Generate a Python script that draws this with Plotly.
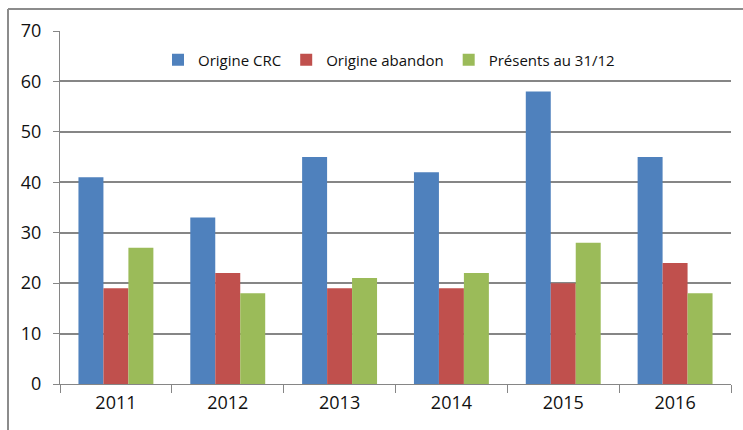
import plotly.graph_objects as go

years = ["2011", "2012", "2013", "2014", "2015", "2016"]
origine_crc = [41, 33, 45, 42, 58, 45]
origine_abandon = [19, 22, 19, 19, 20, 24]
presents = [27, 18, 21, 22, 28, 18]

series_names = ["Origine CRC", "Origine abandon", "Présents au 31/12"]
colors = ["#4F81BD", "#C0504D", "#9BBB59"]
y_ticks = [0, 10, 20, 30, 40, 50, 60, 70]

fig = go.Figure()
for name, vals, col in zip(series_names, [origine_crc, origine_abandon, presents], colors):
    fig.add_trace(go.Bar(x=years, y=vals, name=name, marker=dict(color=col, line=dict(width=0))))

W, H = 743, 430
ml, mr, mt, mb = 60, 12, 31, 46
pw, ph = W - ml - mr, H - mt - mb

def px_to_paper_x(px):
    return (px - ml) / pw

def px_to_paper_y(py):
    return 1 - (py - mt) / ph

fig.update_layout(
    width=W, height=H,
    margin=dict(l=ml, r=mr, t=mt, b=mb, autoexpand=False),
    paper_bgcolor="white", plot_bgcolor="white",
    barmode="group", bargap=0.33, bargroupgap=0,
    font=dict(family="Open Sans, Noto Sans, sans-serif", color="#111111"),
    showlegend=True,
    legend=dict(orientation="h", x=px_to_paper_x(389), y=px_to_paper_y(60),
                xanchor="center", yanchor="middle",
                font=dict(size=15, color="#111111"),
                itemwidth=30, traceorder="normal", bgcolor="rgba(0,0,0,0)"),
    xaxis=dict(type="category", showline=True, linecolor="#868686", linewidth=1,
               ticks="outside", ticklen=8, tickcolor="#868686", tickson="boundaries",
               tickfont=dict(size=18), showgrid=False, ticklabelstandoff=2,
               automargin=False),
    yaxis=dict(range=[0, 70], tickvals=y_ticks, showline=True, linecolor="#868686",
               linewidth=1, ticks="outside", ticklen=6, tickcolor="#868686",
               showgrid=True, gridcolor="#868686", gridwidth=1.5,
               tickfont=dict(size=18), zeroline=False, ticklabelstandoff=8,
               automargin=False),
    shapes=[
        dict(type="line", xref="paper", yref="paper",
             x0=px_to_paper_x(8), x1=px_to_paper_x(760), y0=px_to_paper_y(9), y1=px_to_paper_y(9),
             line=dict(color="#8c8c8c", width=2)),
        dict(type="line", xref="paper", yref="paper",
             x0=px_to_paper_x(8), x1=px_to_paper_x(8), y0=px_to_paper_y(9), y1=px_to_paper_y(440),
             line=dict(color="#8c8c8c", width=2)),
    ],
)

fig.write_html("out.html", config={"displayModeBar": False},
               post_script="document.body.style.margin='0';document.body.style.overflow='hidden';")
